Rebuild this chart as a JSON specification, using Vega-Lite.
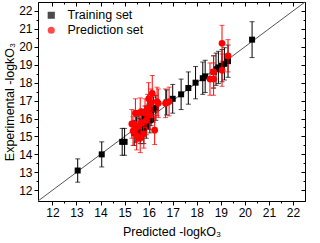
{
  "$schema": "https://vega.github.io/schema/vega-lite/v6.json",
  "width": 267,
  "height": 199,
  "autosize": {"type": "none"},
  "padding": {"left": 38, "top": 2, "right": 15, "bottom": 42},
  "background": "white",
  "config": {
    "font": "Liberation Sans",
    "view": {"stroke": "black", "strokeWidth": 1},
    "axis": {"grid": false, "domainColor": "black", "tickColor": "black", "labelColor": "black", "titleColor": "black", "labelFontSize": 12, "titleFontSize": 12.5, "titleFontWeight": "normal", "labelFont": "Liberation Sans", "titleFont": "Liberation Sans"},
    "legend": {"labelFont": "Liberation Sans", "labelFontSize": 12.5, "labelColor": "black"}
  },
  "datasets": {
    "pts": [
      {"set": "Training set", "pred": 13.05, "exp": 13.1, "err": 0.65},
      {"set": "Training set", "pred": 14.05, "exp": 14.0, "err": 0.7},
      {"set": "Training set", "pred": 14.9, "exp": 14.7, "err": 0.75},
      {"set": "Training set", "pred": 15.0, "exp": 14.7, "err": 0.75},
      {"set": "Training set", "pred": 15.4, "exp": 15.2, "err": 0.7},
      {"set": "Training set", "pred": 15.5, "exp": 15.4, "err": 0.7},
      {"set": "Training set", "pred": 15.6, "exp": 15.5, "err": 0.7},
      {"set": "Training set", "pred": 15.65, "exp": 15.3, "err": 0.7},
      {"set": "Training set", "pred": 15.7, "exp": 15.6, "err": 0.7},
      {"set": "Training set", "pred": 15.75, "exp": 15.8, "err": 0.7},
      {"set": "Training set", "pred": 15.8, "exp": 15.3, "err": 0.7},
      {"set": "Training set", "pred": 15.85, "exp": 16.0, "err": 0.7},
      {"set": "Training set", "pred": 15.9, "exp": 15.6, "err": 0.7},
      {"set": "Training set", "pred": 16.0, "exp": 16.1, "err": 0.7},
      {"set": "Training set", "pred": 16.05, "exp": 15.9, "err": 0.7},
      {"set": "Training set", "pred": 16.1, "exp": 16.3, "err": 0.7},
      {"set": "Training set", "pred": 16.2, "exp": 16.5, "err": 0.7},
      {"set": "Training set", "pred": 16.3, "exp": 16.6, "err": 0.7},
      {"set": "Training set", "pred": 16.75, "exp": 16.9, "err": 0.7},
      {"set": "Training set", "pred": 17.0, "exp": 17.1, "err": 0.8},
      {"set": "Training set", "pred": 17.35, "exp": 17.35, "err": 0.85},
      {"set": "Training set", "pred": 17.65, "exp": 17.7, "err": 0.9},
      {"set": "Training set", "pred": 17.95, "exp": 18.0, "err": 0.9},
      {"set": "Training set", "pred": 18.25, "exp": 18.25, "err": 0.9},
      {"set": "Training set", "pred": 18.35, "exp": 18.35, "err": 0.9},
      {"set": "Training set", "pred": 18.7, "exp": 18.6, "err": 0.9},
      {"set": "Training set", "pred": 18.8, "exp": 18.75, "err": 0.9},
      {"set": "Training set", "pred": 18.9, "exp": 18.85, "err": 0.9},
      {"set": "Training set", "pred": 19.05, "exp": 18.95, "err": 0.9},
      {"set": "Training set", "pred": 19.15, "exp": 19.05, "err": 0.9},
      {"set": "Training set", "pred": 19.3, "exp": 19.2, "err": 0.9},
      {"set": "Training set", "pred": 20.3, "exp": 20.4, "err": 1.0},
      {"set": "Prediction set", "pred": 15.3, "exp": 15.7, "err": 0.8},
      {"set": "Prediction set", "pred": 15.35, "exp": 15.3, "err": 0.8},
      {"set": "Prediction set", "pred": 15.45, "exp": 15.45, "err": 0.8},
      {"set": "Prediction set", "pred": 15.45, "exp": 16.3, "err": 0.8},
      {"set": "Prediction set", "pred": 15.5, "exp": 15.05, "err": 0.8},
      {"set": "Prediction set", "pred": 15.55, "exp": 15.55, "err": 0.8},
      {"set": "Prediction set", "pred": 15.65, "exp": 14.9, "err": 0.8},
      {"set": "Prediction set", "pred": 15.65, "exp": 16.35, "err": 0.8},
      {"set": "Prediction set", "pred": 15.7, "exp": 15.75, "err": 0.8},
      {"set": "Prediction set", "pred": 15.8, "exp": 15.15, "err": 0.8},
      {"set": "Prediction set", "pred": 15.85, "exp": 16.3, "err": 0.8},
      {"set": "Prediction set", "pred": 15.9, "exp": 15.9, "err": 0.8},
      {"set": "Prediction set", "pred": 15.95, "exp": 16.55, "err": 0.8},
      {"set": "Prediction set", "pred": 16.0, "exp": 17.1, "err": 0.9},
      {"set": "Prediction set", "pred": 16.05, "exp": 16.2, "err": 0.8},
      {"set": "Prediction set", "pred": 16.1, "exp": 16.85, "err": 0.8},
      {"set": "Prediction set", "pred": 16.15, "exp": 17.4, "err": 1.0},
      {"set": "Prediction set", "pred": 16.25, "exp": 15.35, "err": 0.8},
      {"set": "Prediction set", "pred": 16.35, "exp": 16.95, "err": 0.8},
      {"set": "Prediction set", "pred": 16.4, "exp": 16.85, "err": 0.8},
      {"set": "Prediction set", "pred": 16.7, "exp": 16.85, "err": 0.8},
      {"set": "Prediction set", "pred": 16.85, "exp": 16.95, "err": 0.8},
      {"set": "Prediction set", "pred": 18.55, "exp": 18.2, "err": 0.9},
      {"set": "Prediction set", "pred": 18.7, "exp": 18.2, "err": 0.9},
      {"set": "Prediction set", "pred": 18.7, "exp": 18.6, "err": 0.9},
      {"set": "Prediction set", "pred": 19.05, "exp": 18.7, "err": 0.9},
      {"set": "Prediction set", "pred": 19.05, "exp": 20.2, "err": 1.0},
      {"set": "Prediction set", "pred": 19.3, "exp": 19.5, "err": 0.9}
    ],
    "diag": [{"v": 11.4}, {"v": 22.5}]
  },
  "layer": [
    {
      "data": {"name": "diag"},
      "mark": {"type": "line", "color": "#555555", "strokeWidth": 1},
      "encoding": {
        "x": {"field": "v", "type": "quantitative", "scale": {"domain": [11.4, 22.5], "nice": false, "zero": false},
              "axis": {"orient": "top", "labels": false, "title": null, "values": [12,12.5,13,13.5,14,14.5,15,15.5,16,16.5,17,17.5,18,18.5,19,19.5,20,20.5,21,21.5,22],
                       "tickSize": {"condition": {"test": "datum.value % 1 !== 0", "value": -2}, "value": -4}}},
        "y": {"field": "v", "type": "quantitative", "scale": {"domain": [11.4, 22.5], "nice": false, "zero": false},
              "axis": {"orient": "right", "labels": false, "title": null, "values": [12,12.5,13,13.5,14,14.5,15,15.5,16,16.5,17,17.5,18,18.5,19,19.5,20,20.5,21,21.5,22],
                       "tickSize": {"condition": {"test": "datum.value % 1 !== 0", "value": -2}, "value": -4}}}
      }
    },
    {
      "data": {"name": "pts"},
      "layer": [
        {
          "transform": [{"filter": "datum.set === 'Training set'"}],
          "mark": {"type": "errorbar", "ticks": true, "color": "black", "thickness": 1},
          "encoding": {
            "x": {"field": "pred", "type": "quantitative"},
            "y": {"field": "exp", "type": "quantitative"},
            "yError": {"field": "err"}
          }
        },
        {
          "transform": [{"filter": "datum.set === 'Training set'"}],
          "mark": {"type": "point", "filled": true, "opacity": 1, "size": 36},
          "encoding": {
            "x": {"field": "pred", "type": "quantitative"},
            "y": {"field": "exp", "type": "quantitative"}
          }
        },
        {
          "transform": [{"filter": "datum.set === 'Prediction set'"}],
          "mark": {"type": "errorbar", "ticks": true, "color": "#e8474a", "thickness": 1},
          "encoding": {
            "x": {"field": "pred", "type": "quantitative"},
            "y": {"field": "exp", "type": "quantitative"},
            "yError": {"field": "err"}
          }
        },
        {
          "transform": [{"filter": "datum.set === 'Prediction set'"}],
          "mark": {"type": "point", "filled": true, "opacity": 1, "size": 45},
          "encoding": {
            "x": {"field": "pred", "type": "quantitative"},
            "y": {"field": "exp", "type": "quantitative"}
          }
        }
      ],
      "encoding": {
        "color": {"field": "set", "type": "nominal", "scale": {"domain": ["Training set", "Prediction set"], "range": ["black", "red"]},
                  "legend": {"title": null, "orient": "top-left", "offset": 7, "symbolSize": 32, "rowPadding": 2, "labelOffset": 10}},
        "shape": {"field": "set", "type": "nominal", "scale": {"domain": ["Training set", "Prediction set"], "range": ["square", "circle"]}},
        "x": {"field": "pred", "type": "quantitative", "scale": {"domain": [11.4, 22.5], "nice": false, "zero": false},
              "axis": {"orient": "bottom", "title": "Predicted  -logkO₃", "titlePadding": 7,
                       "values": [12,12.5,13,13.5,14,14.5,15,15.5,16,16.5,17,17.5,18,18.5,19,19.5,20,20.5,21,21.5,22],
                       "labelExpr": "datum.value % 1 === 0 ? format(datum.value, 'd') : ''",
                       "tickSize": {"condition": {"test": "datum.value % 1 !== 0", "value": 2}, "value": 4}}},
        "y": {"field": "exp", "type": "quantitative", "scale": {"domain": [11.4, 22.5], "nice": false, "zero": false},
              "axis": {"orient": "left", "title": "Experimental  -logkO₃", "titlePadding": 2,
                       "values": [12,12.5,13,13.5,14,14.5,15,15.5,16,16.5,17,17.5,18,18.5,19,19.5,20,20.5,21,21.5,22],
                       "labelExpr": "datum.value % 1 === 0 ? format(datum.value, 'd') : ''",
                       "tickSize": {"condition": {"test": "datum.value % 1 !== 0", "value": 2}, "value": 4}}}
      }
    }
  ],
  "resolve": {"scale": {"x": "independent", "y": "independent"}},
  "encoding": {}
}
